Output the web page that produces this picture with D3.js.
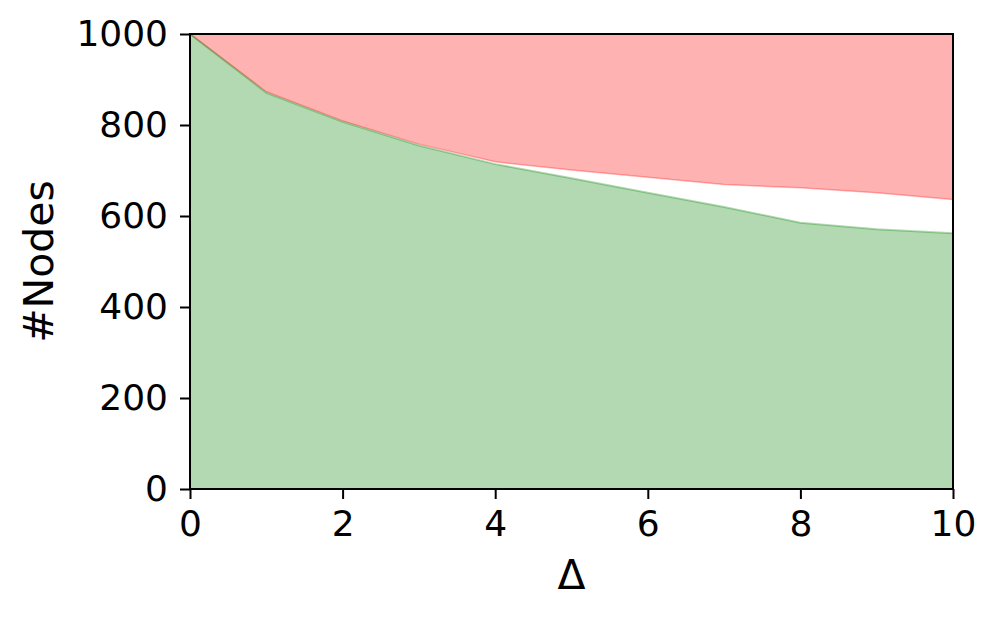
<!DOCTYPE html>
<html>
<head>
<meta charset="utf-8">
<script src="https://cdn.jsdelivr.net/npm/d3@7"></script>
<style>
  body { margin: 0; background: #fff; }
  text { font-family: "DejaVu Sans", sans-serif; }
</style>
</head>
<body>
<svg width="998" height="619"></svg>
<script>
// values
var deltas = [0, 1, 2, 3, 4, 5, 6, 7, 8, 9, 10];
var keptNodes = [1000, 871, 807, 755, 714, 683, 651, 620, 585, 571, 562];   // green, from 0 up
var upperBound = [1000, 873, 809, 758, 719, 701, 685, 669, 662, 651, 636]; // red, from here up to total
var totalNodes = 1000;
var xTicks = [0, 2, 4, 6, 8, 10];
var yTicks = [0, 200, 400, 600, 800, 1000];

var svg = d3.select("svg"),
    margin = {left: 190, right: 45, top: 34, bottom: 130},
    width = +svg.attr("width") - margin.left - margin.right,
    height = +svg.attr("height") - margin.top - margin.bottom;

var x = d3.scaleLinear().domain([0, 10]).range([0, width]);
var y = d3.scaleLinear().domain([0, 1000]).range([height, 0]);

var g = svg.append("g")
    .attr("transform", "translate(" + margin.left + "," + margin.top + ")");

var rows = deltas.map(function(d, i) {
  return {x: d, green: keptNodes[i], red: upperBound[i]};
});

var redArea = d3.area()
    .x(function(d) { return x(d.x); })
    .y0(function(d) { return y(d.red); })
    .y1(function() { return y(totalNodes); });

var greenArea = d3.area()
    .x(function(d) { return x(d.x); })
    .y0(function() { return y(0); })
    .y1(function(d) { return y(d.green); });

g.append("path")
  .datum(rows)
  .attr("d", redArea)
  .style("fill", "rgb(255,0,0)")
  .style("fill-opacity", 0.3)
  .style("stroke", "rgba(255,0,0,0.3)")
  .style("stroke-width", 1.5)
  .style("stroke-linejoin", "round");

g.append("path")
  .datum(rows)
  .attr("d", greenArea)
  .style("fill", "rgb(0,128,0)")
  .style("fill-opacity", 0.3)
  .style("stroke", "rgba(0,128,0,0.3)")
  .style("stroke-width", 2)
  .style("stroke-linejoin", "round");

// axes
var xAxis = g.append("g")
  .attr("transform", "translate(0," + height + ")")
  .call(d3.axisBottom(x).tickValues(xTicks).tickSize(10).tickPadding(11).tickFormat(d3.format("d")));

var yAxis = g.append("g")
  .call(d3.axisLeft(y).tickValues(yTicks).tickSize(10).tickPadding(12).tickFormat(d3.format("d")));

[xAxis, yAxis].forEach(function(a) {
  a.select(".domain").remove();
  a.selectAll(".tick line").style("stroke", "black").style("stroke-width", 2);
  a.selectAll(".tick text")
    .style("font-family", "DejaVu Sans, sans-serif")
    .style("font-size", "36px")
    .style("fill", "black");
});

// frame
g.append("rect")
  .attr("x", 0).attr("y", 0)
  .attr("width", width).attr("height", height)
  .style("fill", "none")
  .style("stroke", "black")
  .style("stroke-width", 2);

g.append("text")
  .attr("x", width / 2)
  .attr("y", height + 100)
  .attr("text-anchor", "middle")
  .style("font-size", "41px")
  .text("Δ");

g.append("text")
  .attr("transform", "translate(" + (-137) + "," + (height / 2) + ") rotate(-90)")
  .attr("text-anchor", "middle")
  .style("font-size", "41px")
  .text("#Nodes");
</script>
</body>
</html>
